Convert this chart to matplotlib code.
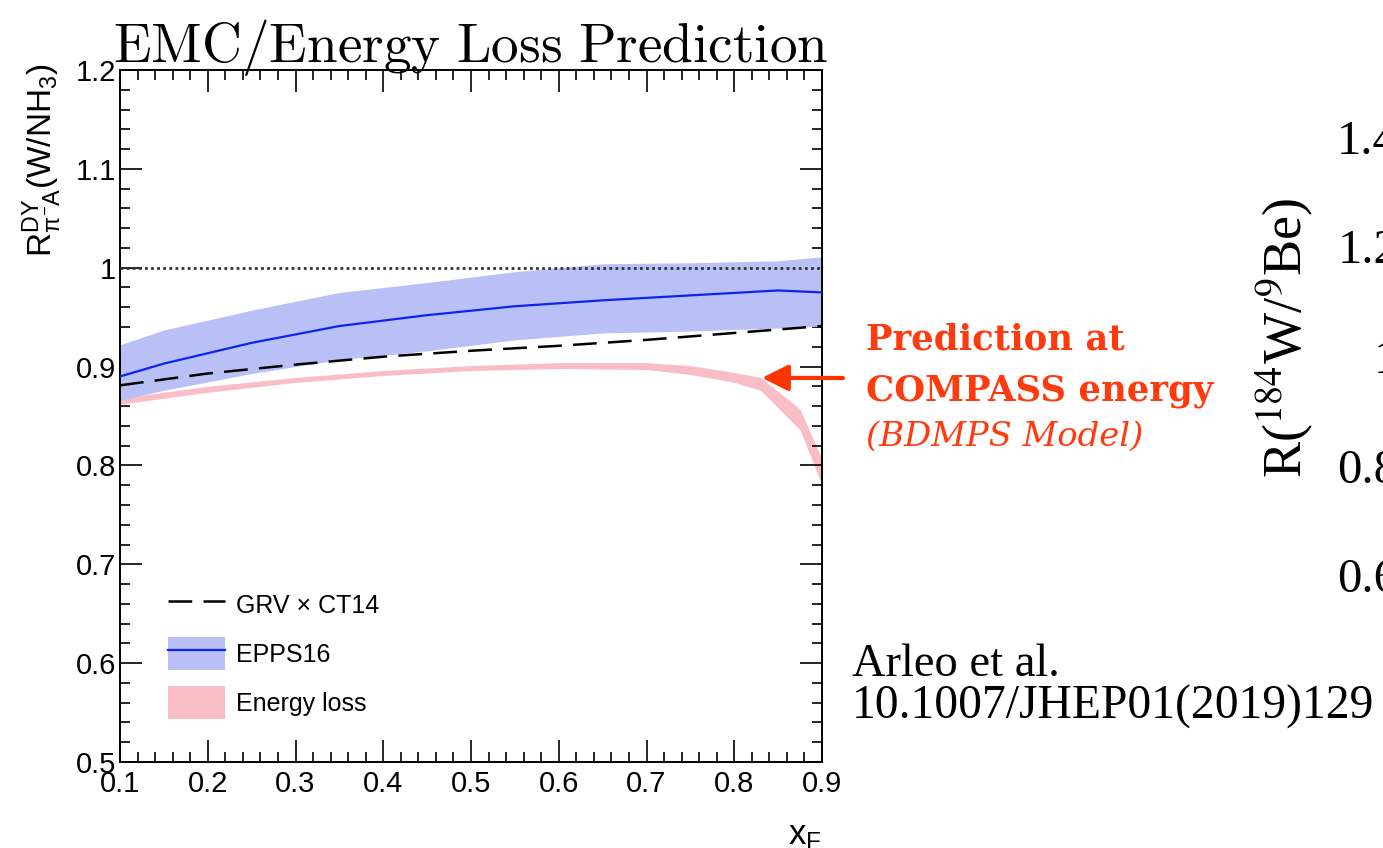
import matplotlib
matplotlib.use('Agg')
import matplotlib.pyplot as plt
from matplotlib.lines import Line2D
from matplotlib.patches import Patch
from matplotlib.ticker import MultipleLocator, FuncFormatter, FixedLocator, FixedFormatter

# EPPS16 central value and uncertainty band
x_epps = [0.10, 0.15, 0.25, 0.35, 0.45, 0.55, 0.65, 0.75, 0.85, 0.90]
epps_central = [0.890, 0.903, 0.924, 0.941, 0.952, 0.961, 0.967, 0.972, 0.977, 0.975]
epps_upper = [0.922, 0.937, 0.957, 0.975, 0.985, 0.996, 1.004, 1.005, 1.007, 1.011]
epps_lower = [0.866, 0.876, 0.893, 0.907, 0.916, 0.927, 0.934, 0.936, 0.939, 0.941]

# GRV x CT14
x_grv = [0.1, 0.2, 0.3, 0.4, 0.5, 0.6, 0.7, 0.8, 0.9]
grv = [0.881, 0.893, 0.902, 0.910, 0.916, 0.921, 0.927, 0.934, 0.941]

# energy loss band
x_eloss = [0.10, 0.20, 0.30, 0.40, 0.50, 0.60, 0.70, 0.75, 0.80, 0.83, 0.875, 0.90]
eloss_upper = [0.868, 0.880, 0.889, 0.896, 0.901, 0.904, 0.904, 0.901, 0.894, 0.889, 0.857, 0.806]
eloss_lower = [0.862, 0.874, 0.884, 0.891, 0.896, 0.898, 0.897, 0.892, 0.884, 0.876, 0.836, 0.780]

legend_labels = ['GRV \u00d7 CT14', 'EPPS16', 'Energy loss']

# tick labels of the neighbouring (cut off) plot on the slide
right_ticks = [0.6, 0.8, 1.0, 1.2, 1.4]
right_tick_labels = ['0.6', '0.8', '1', '1.2', '1.4']

W, H = 1383, 848
BLUE_BAND = '#b8c0f6'
BLUE_LINE = '#0f22f0'
PINK = '#f9bec5'
RED = '#ff3a0e'

plt.rcParams['font.family'] = ['Liberation Sans', 'DejaVu Sans']
plt.rcParams['mathtext.fontset'] = 'custom'
plt.rcParams['mathtext.rm'] = 'Liberation Sans'
plt.rcParams['mathtext.it'] = 'Liberation Sans'
plt.rcParams['mathtext.sf'] = 'Liberation Sans'


def fx(px):
    return px / W


def fy(py):
    return 1 - py / H


def main_plot(fig):
    ax = fig.add_axes([fx(120), fy(762), fx(822) - fx(120), fy(70) - fy(762)])

    ax.fill_between(x_eloss, eloss_lower, eloss_upper, color=PINK, lw=0, zorder=1)
    ax.fill_between(x_epps, epps_lower, epps_upper, color=BLUE_BAND, lw=0, zorder=2)
    ax.plot(x_epps, epps_central, color=BLUE_LINE, lw=1.6, zorder=3)
    ax.plot(x_grv, grv, color='black', lw=1.8, dashes=(9.5, 4.5), zorder=4)
    ax.axhline(1.0, color='#333333', lw=2.0, linestyle=(0, (1, 1.2)), zorder=5)

    ax.set_xlim(0.1, 0.9)
    ax.set_ylim(0.5, 1.2)
    ax.xaxis.set_major_locator(MultipleLocator(0.1))
    ax.xaxis.set_minor_locator(MultipleLocator(0.02))
    ax.yaxis.set_major_locator(MultipleLocator(0.1))
    ax.yaxis.set_minor_locator(MultipleLocator(0.02))
    fmt = FuncFormatter(lambda v, p: '%g' % round(v, 3))
    ax.xaxis.set_major_formatter(fmt)
    ax.yaxis.set_major_formatter(fmt)
    ax.tick_params(which='both', direction='in', top=True, right=True, width=1.2, labelsize=21)
    ax.tick_params(which='major', length=15.5)
    ax.tick_params(which='minor', length=7.5)
    ax.tick_params(axis='x', pad=6)
    ax.tick_params(axis='y', pad=3)
    for s in ax.spines.values():
        s.set_linewidth(1.4)

    handles = [
        Line2D([], [], color='black', lw=1.8, dashes=(9.5, 4.5)),
        (Patch(facecolor=BLUE_BAND, lw=0), Line2D([], [], color=BLUE_LINE, lw=1.6)),
        Patch(facecolor=PINK, lw=0),
    ]
    ax.legend(handles, legend_labels, loc='lower left', bbox_to_anchor=(0.068, 0.062),
              frameon=False, fontsize=18, handlelength=2.3, handleheight=1.66,
              handletextpad=0.45, labelspacing=0.62, borderpad=0, borderaxespad=0)

    # arrow pointing at the energy loss curve
    ax.annotate('', xy=(0.8316, 0.8886), xytext=(fx(843), fy(378)),
                textcoords='figure fraction', annotation_clip=False,
                arrowprops=dict(arrowstyle='-|>,head_length=0.8,head_width=0.4',
                                mutation_scale=20, lw=3, color='#ff3300',
                                shrinkA=0, shrinkB=0))
    return ax


def slide_text(fig):
    fig.text(fx(113), fy(62), r'$\mathrm{EMC/Energy\ Loss\ Prediction}$',
             fontsize=39.8, math_fontfamily='cm', va='baseline', ha='left')
    fig.text(fx(42), fy(63), r'R$^{\rm DY}_{\pi^{-}\rm A}$(W/NH$_{3}$)',
             fontsize=24, rotation=90, ha='center', va='top')
    fig.text(fx(822), fy(836), r'x$_{\rm F}$', fontsize=25, ha='right', va='center')

    fig.text(fx(866), fy(350), 'Prediction at', family='DejaVu Serif', weight='bold',
             fontsize=25.5, color=RED, va='baseline')
    fig.text(fx(866), fy(400), 'COMPASS energy', family='DejaVu Serif', weight='bold',
             fontsize=25.5, color=RED, va='baseline')
    fig.text(fx(866), fy(446), '(BDMPS Model)', family='DejaVu Serif', style='italic',
             fontsize=24.4, color=RED, va='baseline')

    fig.text(fx(852), fy(676), 'Arleo et al.', family='Liberation Serif', fontsize=33.5,
             va='baseline')
    fig.text(fx(852), fy(719), '10.1007/JHEP01(2019)129', family='Liberation Serif',
             fontsize=34.3, va='baseline')


def neighbour_plot(fig):
    # the next plot on the slide, only its axis labels are visible
    ax2 = fig.add_axes([fx(1405), fy(630), 0.3, fy(82) - fy(630)])
    ax2.set_ylim(0.5, 1.5)
    ax2.yaxis.set_major_locator(FixedLocator(right_ticks))
    ax2.yaxis.set_major_formatter(FixedFormatter(right_tick_labels))
    ax2.tick_params(axis='y', length=0, pad=5, labelsize=35)
    for lab in ax2.get_yticklabels():
        lab.set_family('Liberation Serif')
    ax2.set_xticks([])
    ax2.set_facecolor('none')
    for s in ax2.spines.values():
        s.set_visible(False)
    fig.text(fx(1285), fy(338), r'R($^{184}$W/$^{9}$Be)', family='Liberation Serif',
             math_fontfamily='stix', fontsize=39, rotation=90, ha='center', va='center')


def main():
    fig = plt.figure(figsize=(W / 100, H / 100), dpi=100)
    main_plot(fig)
    slide_text(fig)
    neighbour_plot(fig)
    fig.savefig('out.png', dpi=100)


if __name__ == '__main__':
    main()
